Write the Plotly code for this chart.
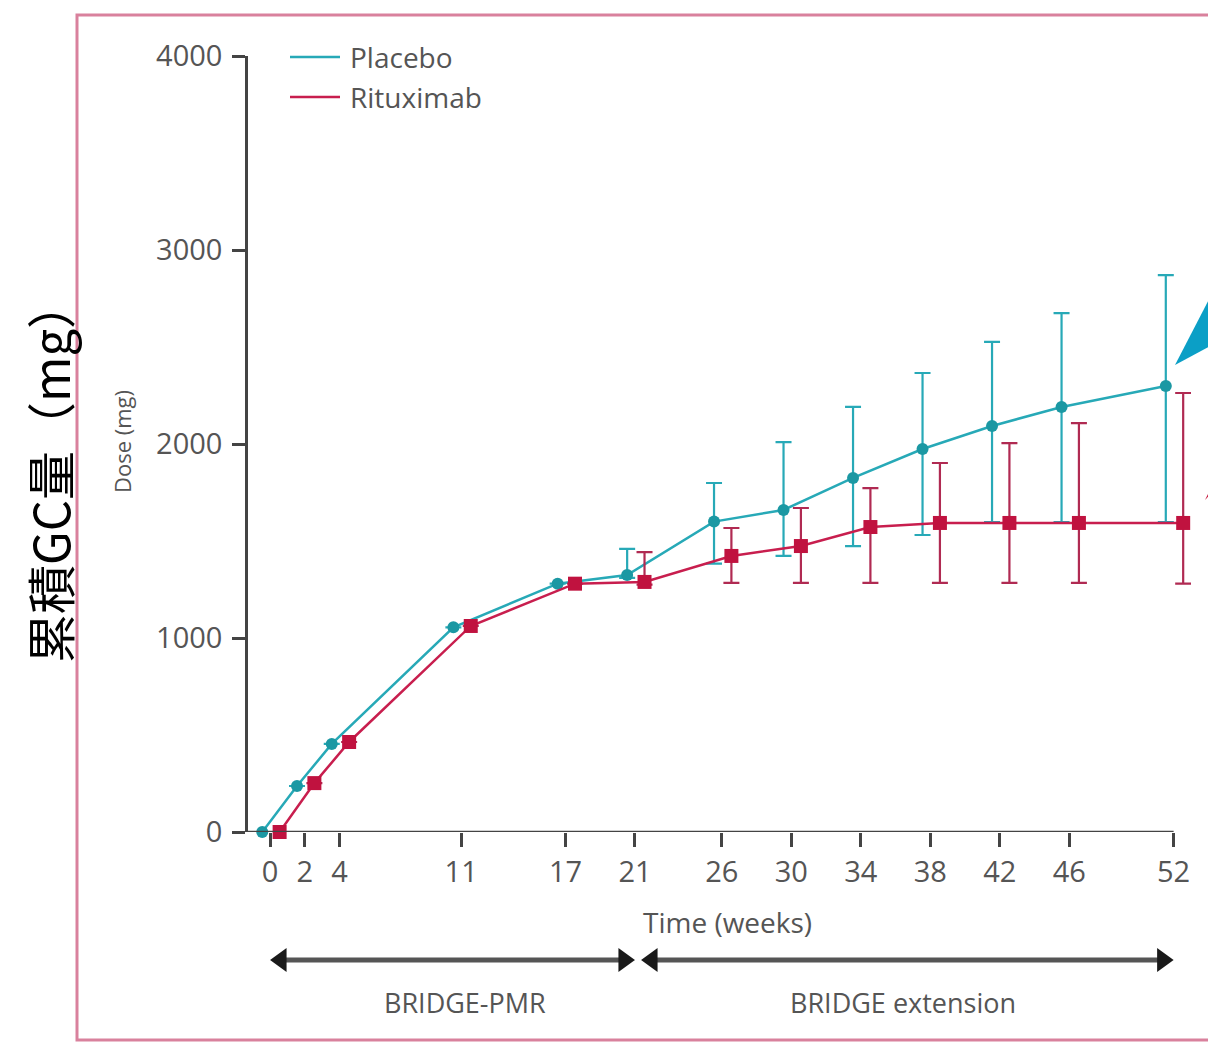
import plotly.graph_objects as go

# ---------------- data ----------------
weeks = [0, 2, 4, 11, 17, 21, 26, 30, 34, 38, 42, 46, 52]
tick_labels = ["0", "2", "4", "11", "17", "21", "26", "30", "34", "38", "42", "46", "52"]

placebo = [0, 237, 454, 1055, 1280, 1325, 1600, 1660, 1825, 1974, 2093, 2191, 2299]
placebo_upper = [None, None, None, None, None, 1459, 1799, 2010, 2191, 2366, 2526, 2675, 2871]
placebo_lower = [None, None, None, None, None, 1310, 1383, 1423, 1474, 1531, 1598, 1598, 1598]

rituximab = [0, 252, 464, 1062, 1280, 1289, 1423, 1474, 1572, 1593, 1593, 1593, 1593]
ritux_upper = [None, None, None, None, None, 1443, 1567, 1670, 1773, 1902, 2005, 2108, 2263]
ritux_lower = [None, None, None, None, None, 1275, 1284, 1284, 1284, 1284, 1284, 1284, 1280]

y_ticks = [0, 1000, 2000, 3000, 4000]

# ---------------- style ----------------
TEAL = "#27a9b7"
TEAL_M = "#1b98a3"
RED = "#c81e4e"
RED_M = "#c0123f"
RED_E = "#b02a52"
GREY = "#555555"
AXIS = "#444444"
FONT = "Open Sans"
PLACEBO_SHIFT = -0.45
RITUX_SHIFT = 0.55

X_MIN, X_AXIS_END, X_MAX = -1.27, 52, 53

SHIFT = 8  # page body margin
W, H = 1216, 1045
L, R, T, B = 240, 33, 48, 221
PW = W - L - R
PH = H - T - B


def px(x):
    return (x - SHIFT - L) / PW


def py(y):
    return (H - B - (y - SHIFT)) / PH


def err(vals, bound, sign):
    out = []
    for v, b in zip(vals, bound):
        out.append(0 if b is None else sign * (b - v))
    return out


fig = go.Figure()

fig.add_trace(go.Scatter(
    x=[w + PLACEBO_SHIFT for w in weeks], y=placebo, mode="lines+markers",
    name="Placebo", showlegend=False, cliponaxis=False,
    line=dict(color=TEAL, width=2.5),
    marker=dict(symbol="circle", size=12, color=TEAL_M),
    error_y=dict(type="data", symmetric=False,
                 array=err(placebo, placebo_upper, 1),
                 arrayminus=err(placebo, placebo_lower, -1),
                 color=TEAL, thickness=2.2, width=8),
))
fig.add_trace(go.Scatter(
    x=[w + RITUX_SHIFT for w in weeks], y=rituximab, mode="lines+markers",
    name="Rituximab", showlegend=False, cliponaxis=False,
    line=dict(color=RED, width=2.5),
    marker=dict(symbol="square", size=14, color=RED_M),
    error_y=dict(type="data", symmetric=False,
                 array=err(rituximab, ritux_upper, 1),
                 arrayminus=err(rituximab, ritux_lower, -1),
                 color=RED_E, thickness=2.2, width=8),
))

shapes = []
annotations = []

# outer pink frame
shapes.append(dict(type="rect", xref="paper", yref="paper",
                   x0=px(77), x1=px(1214), y0=py(15), y1=py(1040),
                   line=dict(color="#d9819d", width=3), layer="below"))

# x axis line (ends at week 52)
shapes.append(dict(type="line", xref="x", yref="y", x0=X_MIN, x1=X_AXIS_END, y0=0, y1=0,
                   line=dict(color=AXIS, width=2.5)))

# legend
for yy, col, lab in [(57, TEAL, "Placebo"), (97, RED, "Rituximab")]:
    shapes.append(dict(type="line", xref="paper", yref="paper",
                       x0=px(290), x1=px(340), y0=py(yy), y1=py(yy),
                       line=dict(color=col, width=2.5)))
    annotations.append(dict(xref="paper", yref="paper", x=px(348), y=py(yy),
                            text=lab, showarrow=False, xanchor="left", yanchor="middle",
                            font=dict(family=FONT, size=28, color=GREY)))

# bottom period arrows
ARROW_Y = 960
head_len = 0.95
head_h = 12
for xa, xb in [(0, 21), (21.35, 52)]:
    shapes.append(dict(type="line", xref="x", yref="paper",
                       x0=xa + head_len * 0.5, x1=xb - head_len * 0.5,
                       y0=py(ARROW_Y), y1=py(ARROW_Y),
                       line=dict(color="#555555", width=5)))
    shapes.append(dict(type="path", xref="x", yref="paper",
                       path=f"M {xa} {py(ARROW_Y)} L {xa + head_len} {py(ARROW_Y - head_h)} "
                            f"L {xa + head_len} {py(ARROW_Y + head_h)} Z",
                       fillcolor="#1a1a1a", line=dict(width=0)))
    shapes.append(dict(type="path", xref="x", yref="paper",
                       path=f"M {xb} {py(ARROW_Y)} L {xb - head_len} {py(ARROW_Y - head_h)} "
                            f"L {xb - head_len} {py(ARROW_Y + head_h)} Z",
                       fillcolor="#1a1a1a", line=dict(width=0)))

annotations.append(dict(xref="x", yref="paper", x=11.2, y=py(1002), text="BRIDGE-PMR",
                        showarrow=False, xanchor="center", yanchor="middle",
                        font=dict(family=FONT, size=27, color=GREY)))
annotations.append(dict(xref="x", yref="paper", x=36.4, y=py(1002), text="BRIDGE extension",
                        showarrow=False, xanchor="center", yanchor="middle",
                        font=dict(family=FONT, size=27, color=GREY)))
annotations.append(dict(xref="paper", yref="paper", x=px(727), y=py(922), text="Time (weeks)",
                        showarrow=False, xanchor="center", yanchor="middle",
                        font=dict(family=FONT, size=28, color=GREY)))

# axis titles
annotations.append(dict(xref="paper", yref="paper", x=px(122), y=py(442), text="Dose (mg)",
                        textangle=-90, showarrow=False, xanchor="center", yanchor="middle",
                        font=dict(family=FONT, size=22, color=GREY)))
annotations.append(dict(xref="paper", yref="paper", x=px(48), y=py(472), text="累積GC量（mg）",
                        textangle=-90, showarrow=False, xanchor="center", yanchor="middle",
                        font=dict(family="Noto Sans CJK JP", size=49, color="#000000")))

# callout pointers at the right edge (cropped)
shapes.append(dict(type="path", xref="paper", yref="paper",
                   path=f"M {px(1175)} {py(365)} L {px(1218)} {py(282)} L {px(1218)} {py(342)} Z",
                   fillcolor="#0b9fc6", line=dict(width=0)))
shapes.append(dict(type="path", xref="paper", yref="paper",
                   path=f"M {px(1205)} {py(500)} L {px(1218)} {py(474)} L {px(1218)} {py(486)} Z",
                   fillcolor="#c8193f", line=dict(width=0)))

fig.update_layout(
    width=W, height=H,
    margin=dict(l=L, r=R, t=T, b=B, pad=0),
    paper_bgcolor="white", plot_bgcolor="white",
    showlegend=False,
    shapes=shapes, annotations=annotations,
    xaxis=dict(range=[X_MIN, X_MAX], tickmode="array", tickvals=weeks, ticktext=tick_labels,
               showgrid=False, zeroline=False, showline=False,
               ticks="outside", ticklen=14, tickwidth=2.5, tickcolor=AXIS,
               tickfont=dict(family=FONT, size=29, color=GREY)),
    yaxis=dict(range=[0, 4000], tickmode="array", tickvals=y_ticks,
               showgrid=False, zeroline=False, showline=True, linecolor=AXIS, linewidth=2.5,
               ticks="outside", ticklen=13, tickwidth=2.5, tickcolor=AXIS,
               ticklabelstandoff=4,
               tickfont=dict(family=FONT, size=29, color=GREY)),
)

fig.write_html("out.html")
